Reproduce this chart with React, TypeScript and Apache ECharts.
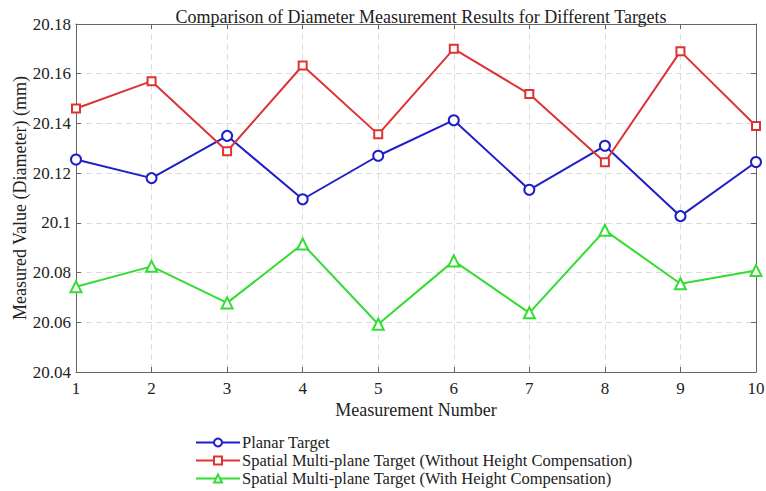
import React, { useEffect, useRef } from "react";
import * as echarts from "echarts";

const measurementNumbers = [1, 2, 3, 4, 5, 6, 7, 8, 9, 10];
const planarTarget = [20.1255, 20.118, 20.135, 20.1095, 20.127, 20.1413, 20.1133, 20.131, 20.1027, 20.1245];
const withoutHeightComp = [20.146, 20.157, 20.1288, 20.1633, 20.1356, 20.17, 20.1518, 20.1244, 20.169, 20.139];
const withHeightComp = [20.0743, 20.0825, 20.0678, 20.0915, 20.0592, 20.0847, 20.0638, 20.097, 20.0755, 20.0808];
const seriesNames = [
  "Planar Target",
  "Spatial Multi-plane Target (Without Height Compensation)",
  "Spatial Multi-plane Target (With Height Compensation)",
];

const FONT = "'Liberation Serif', 'Times New Roman', serif";

export default function App() {
  const ref = useRef<HTMLDivElement>(null);
  useEffect(() => {
    if (!ref.current) return;
    const chart = echarts.init(ref.current, null, { renderer: "svg" });
    const pairs = (ys: number[]) => measurementNumbers.map((x, i) => [x, ys[i]]);
    const fmt = (v: number) => String(Number(v.toFixed(2)));
    const axisLineStyle = { color: "#666", width: 1 };
    const legendTops = [434, 452, 470];
    chart.setOption({
      animation: false,
      backgroundColor: "#fff",
      textStyle: { fontFamily: FONT },
      title: {
        text: "Comparison of Diameter Measurement Results for Different Targets",
        left: 416,
        textAlign: "center",
        top: 3,
        textStyle: { fontFamily: FONT, fontSize: 18, fontWeight: "normal", color: "#222" },
      },
      grid: { left: 76, right: 10, top: 24, bottom: 119, show: false, containLabel: false, outerBoundsMode: "none" },
      legend: seriesNames.map((n, i) => ({
        orient: "vertical",
        left: 195,
        top: legendTops[i],
        itemWidth: 44,
        itemHeight: 10,
        itemGap: 0,
        padding: 0,
        textStyle: { fontFamily: FONT, fontSize: 16.5, color: "#222", padding: [0, 0, 0, -3] },
        data: [n],
      })),
      xAxis: [
        {
          type: "value",
          min: 1,
          max: 10,
          interval: 1,
          name: "Measurement Number",
          nameLocation: "middle",
          nameGap: 29,
          nameMoveOverlap: false,
          nameTextStyle: { fontFamily: FONT, fontSize: 18, color: "#222" },
          axisLine: { show: true, lineStyle: axisLineStyle },
          axisTick: { show: true, inside: true, length: 5, lineStyle: axisLineStyle },
          axisLabel: { fontFamily: FONT, fontSize: 17, color: "#222", margin: 8 },
          splitLine: { show: true, lineStyle: { color: "#ddd", type: [6, 4], width: 1 } },
        },
        {
          type: "value",
          position: "top",
          min: 1,
          max: 10,
          interval: 1,
          axisLine: { show: true, lineStyle: axisLineStyle },
          axisTick: { show: true, inside: true, length: 5, lineStyle: axisLineStyle },
          axisLabel: { show: false },
          splitLine: { show: false },
        },
      ],
      yAxis: [
        {
          type: "value",
          min: 20.04,
          max: 20.18,
          interval: 0.02,
          name: "Measured Value (Diameter) (mm)",
          nameLocation: "middle",
          nameGap: 47,
          nameMoveOverlap: false,
          nameTextStyle: { fontFamily: FONT, fontSize: 18, color: "#222" },
          axisLine: { show: true, lineStyle: axisLineStyle },
          axisTick: { show: true, inside: true, length: 5, lineStyle: axisLineStyle },
          axisLabel: { fontFamily: FONT, fontSize: 17, color: "#222", margin: 5, formatter: fmt },
          splitLine: { show: true, lineStyle: { color: "#ddd", type: [6, 4], width: 1 } },
        },
        {
          type: "value",
          position: "right",
          min: 20.04,
          max: 20.18,
          interval: 0.02,
          axisLine: { show: true, lineStyle: axisLineStyle },
          axisTick: { show: true, inside: true, length: 5, lineStyle: axisLineStyle },
          axisLabel: { show: false },
          splitLine: { show: false },
        },
      ],
      series: [
        {
          name: seriesNames[0],
          type: "line",
          data: pairs(planarTarget),
          symbol: "emptyCircle",
          symbolSize: 10,
          lineStyle: { color: "#1f1fc8", width: 2 },
          itemStyle: { color: "#1f1fc8", borderWidth: 2 },
        },
        {
          name: seriesNames[1],
          type: "line",
          data: pairs(withoutHeightComp),
          symbol: "emptyRect",
          symbolSize: 8,
          lineStyle: { color: "#dd3333", width: 2 },
          itemStyle: { color: "#dd3333", borderWidth: 1.5 },
        },
        {
          name: seriesNames[2],
          type: "line",
          data: pairs(withHeightComp),
          symbol: "emptyTriangle",
          symbolSize: 11,
          lineStyle: { color: "#33dd33", width: 2 },
          itemStyle: { color: "#33dd33", borderWidth: 1.5 },
        },
      ],
    });
    return () => chart.dispose();
  }, []);
  return <div ref={ref} style={{ width: 766, height: 491, position: "absolute", left: 0, top: 0 }} />;
}
